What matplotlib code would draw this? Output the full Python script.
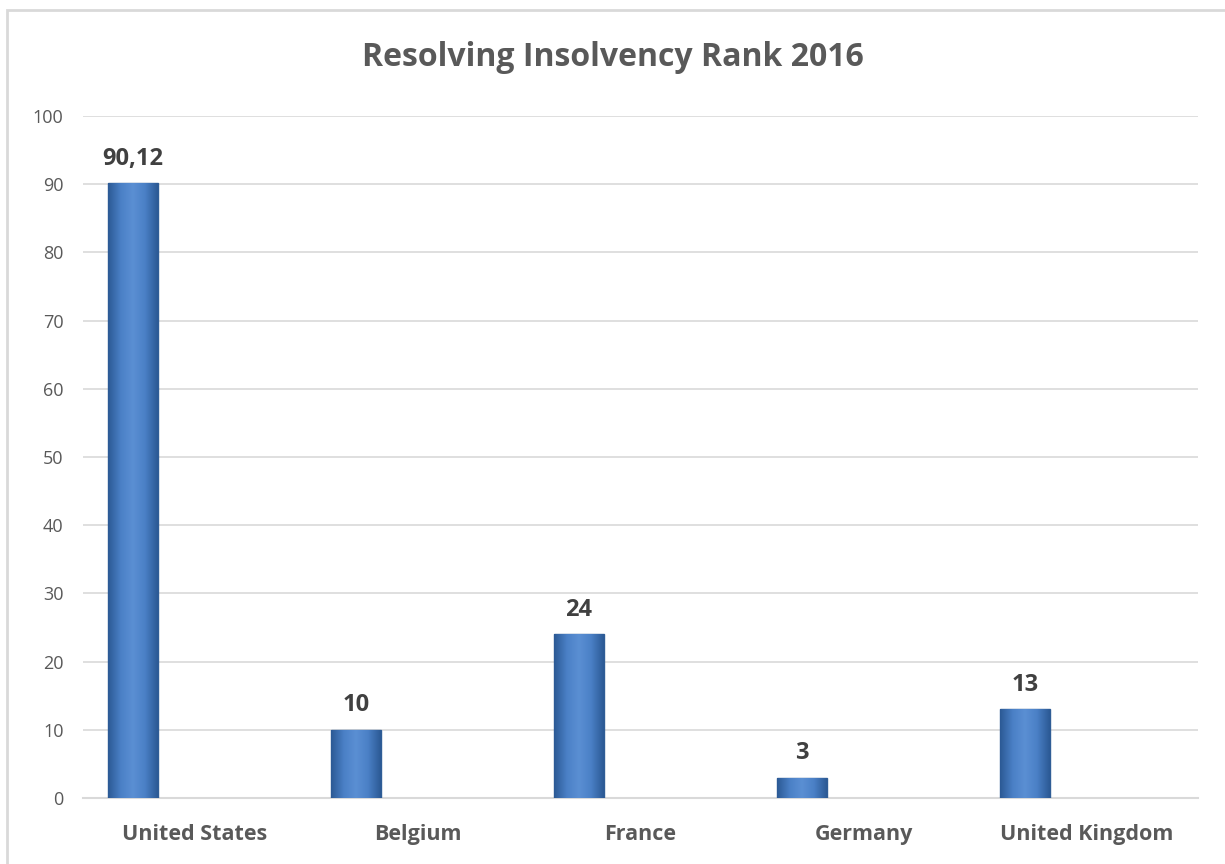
import matplotlib
matplotlib.use("Agg")
import matplotlib.pyplot as plt
import numpy as np
from matplotlib.patches import Rectangle
from matplotlib.colors import LinearSegmentedColormap

categories = ["United States", "Belgium", "France", "Germany", "United Kingdom"]
values = [90.12, 10, 24, 3, 13]
value_labels = ["90,12", "10", "24", "3", "13"]
yticks = [0, 10, 20, 30, 40, 50, 60, 70, 80, 90, 100]

plt.rcParams['font.family'] = ['Open Sans', 'DejaVu Sans']
GRAY = '#595959'
GRID = '#d9d9d9'

fig = plt.figure(figsize=(12.25, 8.64), dpi=100)
ax = fig.add_axes([83/1225, 1-798/864, (1198-83)/1225, (798-116)/864])

x = np.arange(len(categories))
offset = -0.276
width = 0.224
bars = ax.bar(x + offset, values, width=width, color='#4a7ebf',
              edgecolor='#2f5d96', linewidth=1.0, zorder=3)

# gradient overlay to mimic bevel
grad = np.linspace(0, 1, 64)
cmap = LinearSegmentedColormap.from_list('b', ['#2c5a95', '#4a80c6', '#5b8fd3', '#4a80c6', '#2c5a95'])
for b in bars:
    x0, w, h = b.get_x(), b.get_width(), b.get_height()
    im = ax.imshow(grad.reshape(1, -1), cmap=cmap, aspect='auto',
                   extent=[x0, x0 + w, 0, h], zorder=3.5, interpolation='bicubic')
    im.set_clip_path(b)

for xi, v, lab in zip(x, values, value_labels):
    ax.annotate(lab, (xi + offset, v), xytext=(0, 9), textcoords='offset points',
                ha='center', va='bottom', fontsize=17, fontweight='bold', color='#404040')

ax.set_xlim(-0.5, len(categories) - 0.5)
ax.set_ylim(0, 100)
ax.set_yticks(yticks)
ax.set_xticks(x)
ax.set_xticklabels(categories, fontsize=15.5, fontweight='bold', color=GRAY)
ax.tick_params(axis='y', labelsize=13, labelcolor=GRAY, length=0, pad=14)
ax.tick_params(axis='x', length=0, pad=19)
ax.yaxis.grid(True, color=GRID, linewidth=1.2, zorder=0)
ax.set_axisbelow(True)
for s in ['top', 'right', 'left']:
    ax.spines[s].set_visible(False)
ax.spines['bottom'].set_color(GRID)
ax.spines['bottom'].set_linewidth(1.5)

fig.text(0.5, 1 - 57/864, "Resolving Insolvency Rank 2016", ha='center', va='center',
         fontsize=23, fontweight='bold', color=GRAY)

border = Rectangle((7/1225, -0.05), 1.1, 1 - 10/864 + 0.05, transform=fig.transFigure,
                   fill=False, edgecolor=GRID, linewidth=2, zorder=10)
fig.patches.append(border)

fig.savefig("out.png", dpi=100)
